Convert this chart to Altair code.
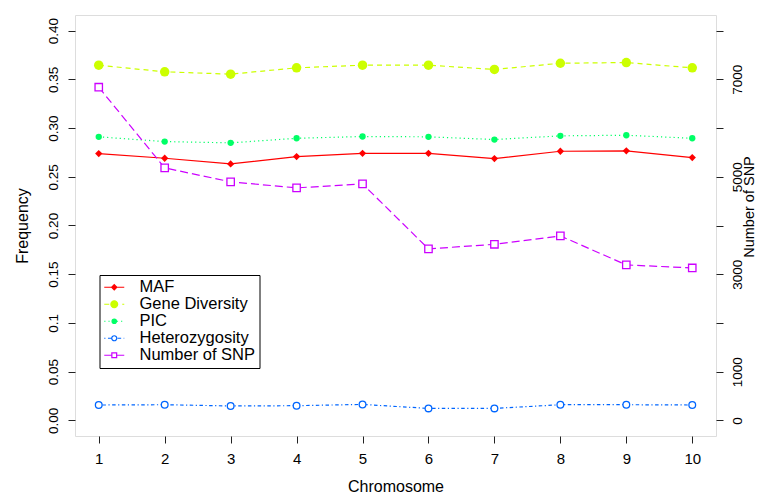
import json
import altair as alt
import pandas as pd

# ---------------- data ----------------
chromosomes = [1, 2, 3, 4, 5, 6, 7, 8, 9, 10]
maf = [0.2738, 0.2690, 0.2632, 0.2707, 0.2741, 0.2741, 0.2687, 0.2762, 0.2766, 0.2697]
gene_diversity = [0.3645, 0.3577, 0.3553, 0.3618, 0.3645, 0.3645, 0.3601, 0.3665, 0.3672, 0.3618]
pic = [0.2910, 0.2861, 0.2848, 0.2895, 0.2913, 0.2910, 0.2882, 0.2920, 0.2926, 0.2895]
heterozygosity = [0.0158, 0.0161, 0.0148, 0.0151, 0.0164, 0.0123, 0.0123, 0.0161, 0.0161, 0.0158]
snp_count = [6838, 5182, 4896, 4772, 4854, 3520, 3614, 3786, 3191, 3129]

series_names = ["MAF", "Gene Diversity", "PIC", "Heterozygosity", "Number of SNP"]

freq_ticks = [0.0, 0.05, 0.1, 0.15, 0.2, 0.25, 0.3, 0.35, 0.4]
freq_tick_labels = ["0.00", "0.05", "0.1", "0.15", "0.20", "0.25", "0.30", "0.35", "0.40"]
snp_ticks = [0, 1000, 2000, 3000, 4000, 5000, 6000, 7000, 8000]
snp_tick_labels = ["0", "1000", "", "3000", "", "5000", "", "7000", ""]

freq_df = pd.DataFrame({
    "chromosome": chromosomes * 4,
    "series": [n for n in series_names[:4] for _ in chromosomes],
    "value": maf + gene_diversity + pic + heterozygosity,
})
snp_df = pd.DataFrame({"chromosome": chromosomes, "snp": snp_count})
legend_df = pd.DataFrame({"series": series_names})

# ---------------- styles ----------------
FONT = "Liberation Sans"
colors = ["#FF0000", "#CCFF00", "#00FF66", "#0066FF", "#CC00FF"]
style = {
    "MAF": dict(dash=None, shape="diamond", hollow=False, size=53, lmark=("diamond", 2.6)),
    "Gene Diversity": dict(dash=[5, 4], shape="circle", hollow=False, size=90, lmark=("circle", 3.4)),
    "PIC": dict(dash=[1.2, 3], shape="circle", hollow=False, size=40, lmark=("circle", 2.2)),
    "Heterozygosity": dict(dash=[1.2, 2.5, 3.5, 2.5], shape="circle", hollow=True, size=45, lmark=("circle", 2.5)),
    "Number of SNP": dict(dash=[8, 4], shape="square", hollow=True, size=55, lmark=("square", 2.4)),
}
color_of = dict(zip(series_names, colors))

# legend glyphs: line + marker as custom symbol paths (unit = sqrt(size)/2 px)
LEG_SIZE = 144
U = (LEG_SIZE ** 0.5) / 2.0
HALF = 10.0


def glyph(dash, marker):
    kind, m = marker
    segs = []
    if dash is None:
        segs = [(-HALF, HALF)]
    else:
        pos, i = -HALF, 0
        while pos < HALF:
            L = dash[i % len(dash)]
            if i % 2 == 0:
                segs.append((pos, min(pos + L, HALF)))
            pos += L
            i += 1
    parts = []
    for a, b in segs:
        for lo, hi in ((a, min(b, -m)), (max(a, m), b)):
            if hi - lo > 0.2:
                parts.append(f"M{lo / U:.3f},0H{hi / U:.3f}")
    k = m / U
    if kind == "diamond":
        parts.append(f"M0,{-k:.3f}L{k:.3f},0L0,{k:.3f}L{-k:.3f},0Z")
    elif kind == "circle":
        parts.append(f"M{k:.3f},0A{k:.3f},{k:.3f} 0 1 1 {-k:.3f},0A{k:.3f},{k:.3f} 0 1 1 {k:.3f},0Z")
    else:
        parts.append(f"M{-k:.3f},{-k:.3f}H{k:.3f}V{k:.3f}H{-k:.3f}Z")
    return "".join(parts)


legend_paths = [glyph(style[n]["dash"], style[n]["lmark"]) for n in series_names]
legend_fills = ["#FFFFFF" if style[n]["hollow"] else color_of[n] for n in series_names]

# ---------------- axes / encodings ----------------
x_axis = alt.Axis(
    values=chromosomes, title="Chromosome", grid=False, domain=False,
    tickSize=7, tickColor="#222222", tickWidth=1,
    labelFont=FONT, labelFontSize=15, labelColor="black", labelPadding=8.5,
    labelFlush=False, labelOverlap=False,
    titleFont=FONT, titleFontSize=16, titleFontWeight="normal", titleColor="black",
    titleY=50, titleBaseline="middle",
)
freq_axis = alt.Axis(
    values=freq_ticks, orient="left", title="Frequency", grid=False, domain=False,
    labelExpr=f"{json.dumps(freq_tick_labels)}[indexof({json.dumps(freq_ticks)}, datum.value)]",
    tickSize=7, tickColor="#222222", tickWidth=1,
    labelFont=FONT, labelFontSize=13.5, labelColor="black", labelAngle=270,
    labelAlign="center", labelBaseline="middle", labelPadding=15,
    labelFlush=False, labelOverlap=False,
    titleFont=FONT, titleFontSize=16, titleFontWeight="normal", titleColor="black",
    titleAngle=270, titleAlign="center", titleBaseline="middle", titleX=-53, titleY=210.5,
)
snp_axis = alt.Axis(
    values=snp_ticks, orient="right", title="Number of SNP", grid=False, domain=False,
    labelExpr=f"{json.dumps(snp_tick_labels)}[indexof({json.dumps(snp_ticks)}, datum.value)]",
    tickSize=7, tickColor="#222222", tickWidth=1,
    labelFont=FONT, labelFontSize=13.5, labelColor="black", labelAngle=270,
    labelAlign="center", labelBaseline="middle", labelPadding=14.5,
    labelFlush=False, labelOverlap=False,
    titleFont=FONT, titleFontSize=14.5, titleFontWeight="normal", titleColor="black",
    titleAngle=270, titleAlign="center", titleBaseline="middle", titleX=33, titleY=191.5,
)

x_enc = alt.X("chromosome:Q", scale=alt.Scale(domain=[0.64, 10.36], nice=False, zero=False), axis=x_axis)
y_freq = alt.Y("value:Q", scale=alt.Scale(domain=[-0.016, 0.416], nice=False, zero=False), axis=freq_axis)
y_snp = alt.Y("snp:Q", scale=alt.Scale(domain=[-320, 8320], nice=False, zero=False), axis=snp_axis)


def line_mark(name):
    kw = dict(color=color_of[name], strokeWidth=1.2)
    if style[name]["dash"]:
        kw["strokeDash"] = style[name]["dash"]
    return kw


def point_mark(name):
    st = style[name]
    if st["hollow"]:
        return dict(shape=st["shape"], filled=True, fill="white", stroke=color_of[name],
                    strokeWidth=1.3, size=st["size"], opacity=1)
    return dict(shape=st["shape"], filled=True, fill=color_of[name], size=st["size"], opacity=1)


freq_layers = []
for name in series_names[:4]:
    freq_layers.append(
        alt.Chart(freq_df).transform_filter(alt.datum.series == name)
        .mark_line(**line_mark(name)).encode(x=x_enc, y=y_freq)
    )
for name in series_names[:4]:
    freq_layers.append(
        alt.Chart(freq_df).transform_filter(alt.datum.series == name)
        .mark_point(**point_mark(name)).encode(x=x_enc, y=y_freq)
    )

leg = alt.Legend(
    orient="none", legendX=24.5, legendY=260, title=None, padding=4,
    strokeColor="black", fillColor="white", cornerRadius=0,
    labelFont=FONT, labelFontSize=16.5, labelColor="black",
    symbolSize=LEG_SIZE, symbolStrokeWidth=1.2, symbolOffset=2.5, labelOffset=17,
    rowPadding=0,
)
legend_layer = (
    alt.Chart(legend_df).transform_filter("false")
    .mark_point(filled=True, size=LEG_SIZE, strokeWidth=1.2, opacity=1)
    .encode(
        shape=alt.Shape("series:N", scale=alt.Scale(domain=series_names, range=legend_paths), legend=leg),
        stroke=alt.Stroke("series:N", scale=alt.Scale(domain=series_names, range=colors), legend=leg),
        fill=alt.Fill("series:N", scale=alt.Scale(domain=series_names, range=legend_fills), legend=leg),
    )
)

snp_name = series_names[4]
snp_line = alt.Chart(snp_df).mark_line(**line_mark(snp_name)).encode(x=x_enc, y=y_snp)
snp_points = alt.Chart(snp_df).mark_point(**point_mark(snp_name)).encode(x=x_enc, y=y_snp)

freq_group = alt.layer(*freq_layers, legend_layer)
snp_group = alt.layer(snp_line, snp_points)

chart = (
    alt.layer(freq_group, snp_group)
    .resolve_scale(y="independent")
    .properties(
        width=641, height=421,
        padding={"left": 67, "top": 7, "right": 42, "bottom": 57},
        autosize=alt.AutoSizeParams(type="none"),
        background="white",
    )
    .configure_view(stroke="black", strokeWidth=1)
    .configure(font=FONT)
)

chart.save("out.html", embed_options={"renderer": "svg", "actions": False})
